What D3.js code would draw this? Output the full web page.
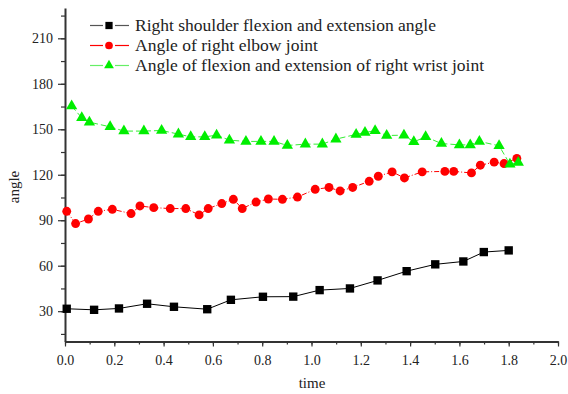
<!DOCTYPE html>
<html>
<head>
<meta charset="utf-8">
<script src="https://cdn.jsdelivr.net/npm/d3@7"></script>
<style>
  body { margin: 0; background: #fff; }
  svg text { font-family: "Liberation Serif", "Times New Roman", serif; fill: #222; }
</style>
</head>
<body>
<svg id="chart" width="568" height="394"></svg>
<script>
// values
var shoulderT = [0.007, 0.118, 0.219, 0.333, 0.442, 0.577, 0.673, 0.803, 0.926, 1.033, 1.156, 1.268, 1.386, 1.502, 1.616, 1.699, 1.8];
var shoulderV = [31.6, 30.9, 31.8, 34.9, 32.9, 31.3, 37.5, 39.5, 39.6, 43.9, 45.0, 50.3, 56.4, 60.9, 62.8, 69.0, 70.1];

var elbowT = [0.007, 0.043, 0.095, 0.135, 0.192, 0.268, 0.304, 0.36, 0.427, 0.49, 0.544, 0.581, 0.636, 0.683, 0.719, 0.775, 0.825, 0.882,
  0.943, 1.015, 1.071, 1.116, 1.167, 1.234, 1.271, 1.327, 1.377, 1.449, 1.541, 1.577, 1.649, 1.685, 1.741, 1.781, 1.833];
var elbowV = [95.9, 87.8, 90.8, 95.9, 97.2, 94.4, 99.4, 98.3, 97.7, 97.7, 93.5, 97.7, 101.0, 103.8, 97.7, 102.0, 104.0, 103.8,
  105.3, 110.4, 111.6, 109.3, 111.6, 115.7, 119.0, 121.9, 117.9, 121.9, 122.2, 122.2, 121.2, 126.3, 128.3, 127.4, 130.8];

var wristT = [0.027, 0.068, 0.099, 0.183, 0.239, 0.32, 0.392, 0.46, 0.51, 0.567, 0.615, 0.667, 0.734, 0.795, 0.848, 0.902,
  0.975, 1.044, 1.099, 1.181, 1.217, 1.258, 1.305, 1.375, 1.415, 1.463, 1.527, 1.6, 1.644, 1.681, 1.761, 1.805, 1.839];
var wristV = [165.3, 157.6, 154.7, 151.6, 148.8, 148.8, 149.2, 146.8, 145.0, 145.0, 146.1, 142.8, 142.0, 142.0, 142.0, 139.3,
  140.2, 140.2, 143.5, 146.6, 147.9, 149.0, 145.9, 146.1, 141.7, 145.0, 140.6, 139.7, 139.7, 142.0, 139.1, 127.0, 128.1];

var legendLabels = ["Right shoulder flexion and extension angle", "Angle of right elbow joint", "Angle of flexion and extension of right wrist joint"];
var xTickLabels = ["0.0", "0.2", "0.4", "0.6", "0.8", "1.0", "1.2", "1.4", "1.6", "1.8", "2.0"];
var yTickLabels = ["30", "60", "90", "120", "150", "180", "210"];

var svg = d3.select('#chart');

var x = d3.scaleLinear().domain([0, 2]).range([65, 558]);
var y = d3.scaleLinear().domain([10, 230]).range([341.5, 8]);

// minor ticks first, then the labelled ones
svg.append('g')
  .attr('transform', 'translate(0,341.5)')
  .call(d3.axisBottom(x).tickValues(d3.range(0, 21).map(function(i){ return i / 10; })).tickSize(3).tickFormat(''))
  .call(function(g){ g.select('.domain').remove(); });
svg.append('g')
  .attr('transform', 'translate(65,0)')
  .call(d3.axisLeft(y).tickValues(d3.range(15, 226, 15)).tickSize(4).tickFormat(''))
  .call(function(g){ g.select('.domain').remove(); });

var xAxis = svg.append('g')
  .attr('transform', 'translate(0,341.5)')
  .call(d3.axisBottom(x).tickValues(xTickLabels.map(Number)).tickSize(5).tickSizeOuter(0)
    .tickFormat(function(d, i){ return xTickLabels[i]; }));
xAxis.selectAll('text').attr('dy', '1.1em').style('font-size', '14px');

var yAxis = svg.append('g')
  .attr('transform', 'translate(65,0)')
  .call(d3.axisLeft(y).tickValues(yTickLabels.map(Number)).tickSize(7).tickSizeOuter(0)
    .tickFormat(function(d, i){ return yTickLabels[i]; }));
yAxis.selectAll('text').attr('x', -12).style('font-size', '14px');

svg.selectAll('.domain').attr('stroke', '#333').attr('stroke-width', 2);
svg.selectAll('.tick line').attr('stroke', '#333').attr('stroke-width', 1.2);

svg.append('text').attr('x', 312).attr('y', 388).attr('text-anchor', 'middle')
  .style('font-size', '15px').text('time');
svg.append('text').attr('transform', 'translate(19,187) rotate(-90)').attr('text-anchor', 'middle')
  .style('font-size', '15px').text('angle');

var line = d3.line().x(function(d){ return x(d[0]); }).y(function(d){ return y(d[1]); });

function zip(ts, vs) { return ts.map(function(t, i){ return [t, vs[i]]; }); }

var series = [
  { pts: zip(shoulderT, shoulderV), color: '#000', lineColor: '#000', dash: null, sym: d3.symbolSquare, size: 70 },
  { pts: zip(elbowT, elbowV), color: '#ff0000', lineColor: '#ff0000', dash: '5,2,1,2', sym: d3.symbolCircle, size: 62 },
  { pts: zip(wristT, wristV), color: '#00ee00', lineColor: '#33ee33', dash: '6,3', sym: d3.symbolTriangle, size: 55 }
];

series.forEach(function(s){
  svg.append('path').datum(s.pts)
    .attr('d', line)
    .attr('fill', 'none')
    .attr('stroke', s.lineColor)
    .attr('stroke-width', 1)
    .attr('stroke-dasharray', s.dash);
  svg.append('g').selectAll('path').data(s.pts).enter().append('path')
    .attr('transform', function(d){ return 'translate(' + x(d[0]) + ',' + y(d[1]) + ')'; })
    .attr('d', d3.symbol().type(s.sym).size(s.size))
    .attr('fill', s.color);
});

// legend - reference text is drawn wider than the font, stretch to the measured widths
var legendWidths = [301, 183, 349];
var legend = svg.append('g');
series.forEach(function(s, i){
  var ly = 25.5 + i * 20;
  var lc = i == 0 ? '#555' : (i == 1 ? '#ff0000' : '#66ee66');
  legend.append('line').attr('x1', 90).attr('x2', 103).attr('y1', ly).attr('y2', ly)
    .attr('stroke', lc).attr('stroke-width', 1.2);
  legend.append('line').attr('x1', 115).attr('x2', 129).attr('y1', ly).attr('y2', ly)
    .attr('stroke', lc).attr('stroke-width', 1.2);
  legend.append('path')
    .attr('transform', 'translate(109,' + ly + ')')
    .attr('d', d3.symbol().type(s.sym).size(s.size * 0.75))
    .attr('fill', s.color);
  legend.append('text').attr('x', 135).attr('y', ly + 5)
    .attr('textLength', legendWidths[i]).attr('lengthAdjust', 'spacingAndGlyphs')
    .style('font-size', '16px').text(legendLabels[i]);
});
</script>
</body>
</html>
